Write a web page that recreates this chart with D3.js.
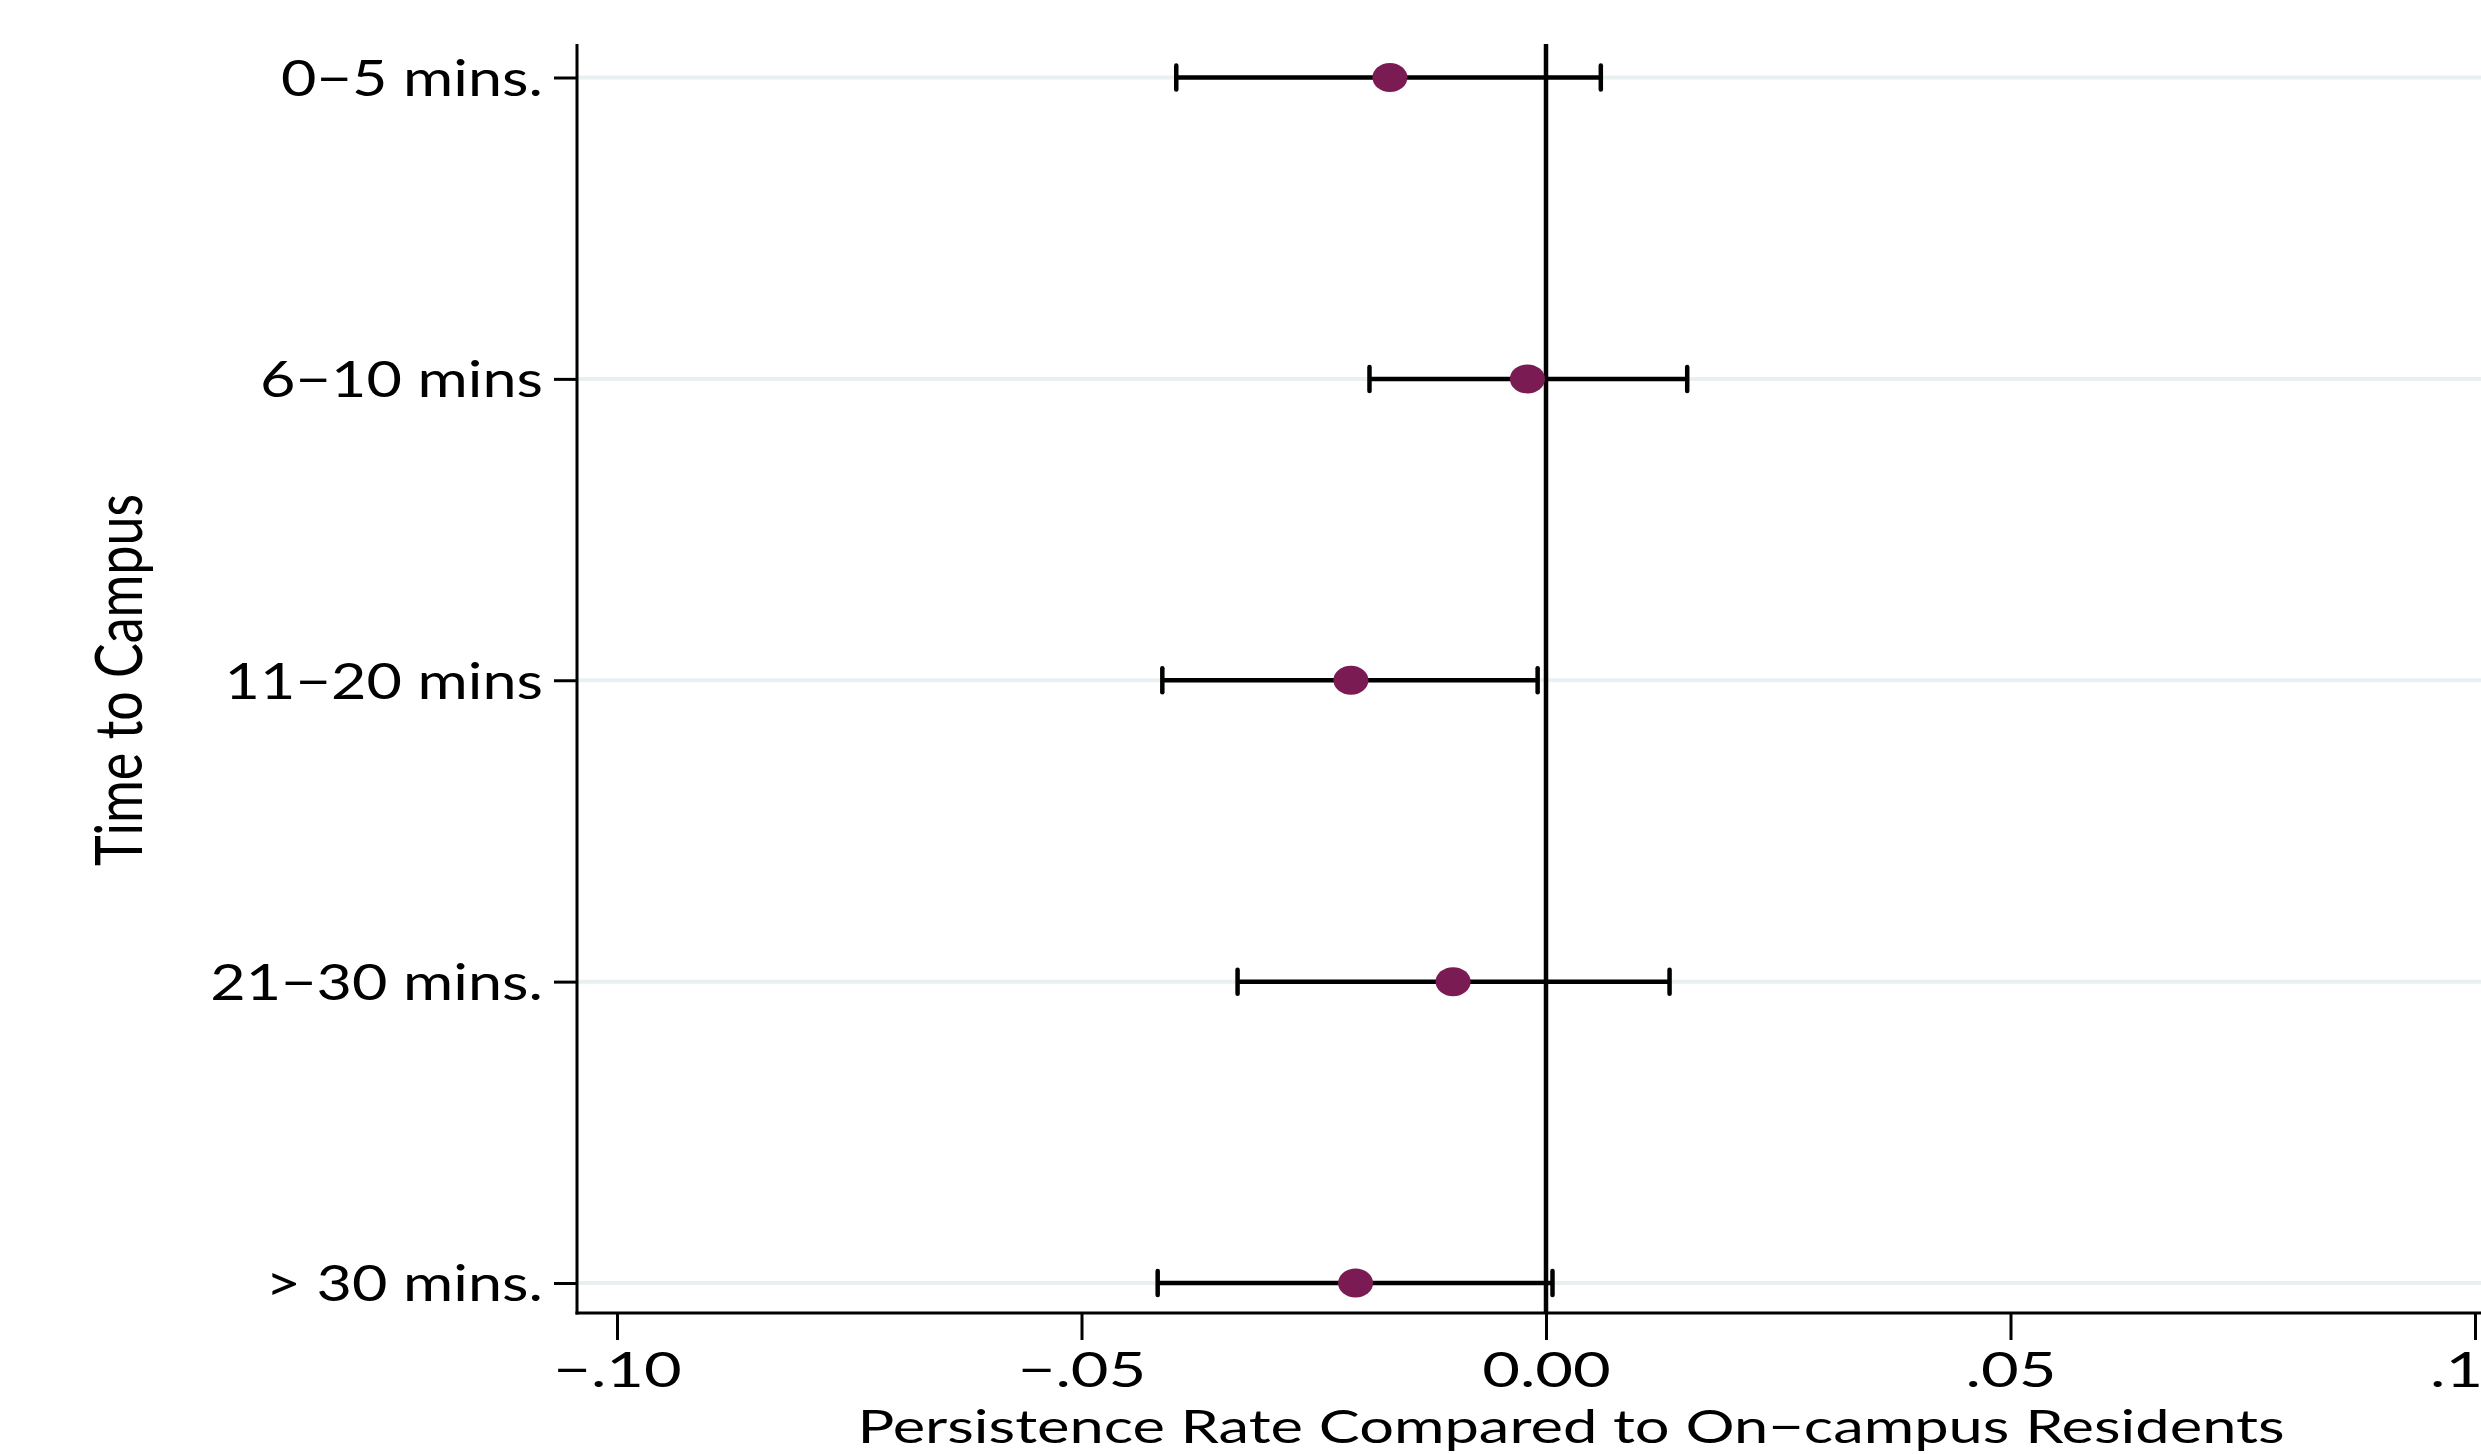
<!DOCTYPE html>
<html>
<head>
<meta charset="utf-8">
<script src="https://cdn.jsdelivr.net/npm/d3@7"></script>
<style>
  html, body { margin: 0; padding: 0; background: #ffffff; overflow: hidden; }
  svg { display: block; }
  text { font-family: Lato, "Open Sans", sans-serif; fill: #000; }
</style>
</head>
<body>
<script>
// ---- data ----
const categories = ["0−5 mins.", "6−10 mins", "11−20 mins", "21−30 mins.", "> 30 mins."];
const estimates  = [-0.0168, -0.0020, -0.0210, -0.0100, -0.0205];
const ciLower    = [-0.0398, -0.0190, -0.0413, -0.0332, -0.0418];
const ciUpper    = [ 0.0059,  0.0152, -0.0009,  0.0133,  0.0007];
const xTickValues = [-0.10, -0.05, 0.00, 0.05, 0.10];
const xTickLabels = ["−.10", "−.05", "0.00", ".05", ".10"];
const xTitle = "Persistence Rate Compared to On−campus Residents";
const yTitle = "Time to Campus";

// ---- layout ----
const W = 2481, H = 1454;
const axisLeft = 577, plotTop = 44, axisBottom = 1313, plotRight = W;
const FONT = "Lato";

const svg = d3.select("body").append("svg").attr("width", W).attr("height", H);

const x = d3.scaleLinear().domain([-0.10, 0.10]).range([617, 2475]);
const y = d3.scalePoint().domain(categories).range([77.5, 1283]);

const rows = categories.map((c, i) => ({c, est: estimates[i], lo: ciLower[i], hi: ciUpper[i]}));

// gridlines
svg.append("g").selectAll("line").data(categories).join("line")
  .attr("x1", axisLeft).attr("x2", plotRight)
  .attr("y1", d => y(d)).attr("y2", d => y(d))
  .attr("stroke", "#e8f0f2").attr("stroke-width", 4);

// zero reference line
svg.append("line")
  .attr("x1", x(0)).attr("x2", x(0))
  .attr("y1", plotTop).attr("y2", axisBottom)
  .attr("stroke", "#000").attr("stroke-width", 4.5);

// x axis
const sxTick = 1.37;
const xAxis = d3.axisBottom(x).tickValues(xTickValues)
  .tickFormat((d, i) => xTickLabels[i]).tickSize(27).tickPadding(12);
const gx = svg.append("g").attr("transform", `translate(0,${axisBottom})`).call(xAxis);
gx.select(".domain").remove();
gx.selectAll(".tick line").attr("stroke", "#000").attr("stroke-width", 3);
gx.selectAll(".tick text")
  .attr("font-size", 47.5).attr("font-family", FONT).attr("fill", "#000")
  .attr("y", 74).attr("dy", null)
  .attr("transform", `scale(${sxTick},1)`);
svg.append("line").attr("x1", axisLeft - 1.5).attr("x2", plotRight)
  .attr("y1", axisBottom).attr("y2", axisBottom).attr("stroke", "#000").attr("stroke-width", 3);

// y axis
const syTick = 1.235;
const yAxis = d3.axisLeft(y).tickSize(23).tickPadding(11);
const gy = svg.append("g").attr("transform", `translate(${axisLeft},0)`).call(yAxis);
gy.select(".domain").remove();
gy.selectAll(".tick line").attr("stroke", "#000").attr("stroke-width", 3);
gy.selectAll(".tick text")
  .attr("font-size", 49.5).attr("font-family", FONT).attr("fill", "#000")
  .attr("x", -34 / syTick).attr("dy", "0.36em")
  .attr("transform", `scale(${syTick},1)`);
svg.append("line").attr("x1", axisLeft).attr("x2", axisLeft)
  .attr("y1", plotTop).attr("y2", axisBottom + 1.5).attr("stroke", "#000").attr("stroke-width", 3);

// error bars
const bars = svg.append("g");
bars.selectAll("line.ci").data(rows).join("line").attr("class", "ci")
  .attr("x1", d => x(d.lo)).attr("x2", d => x(d.hi))
  .attr("y1", d => y(d.c)).attr("y2", d => y(d.c))
  .attr("stroke", "#000").attr("stroke-width", 4.5);
bars.selectAll("line.capl").data(rows).join("line").attr("class", "capl")
  .attr("x1", d => x(d.lo)).attr("x2", d => x(d.lo))
  .attr("y1", d => y(d.c) - 12).attr("y2", d => y(d.c) + 12)
  .attr("stroke", "#000").attr("stroke-width", 4.5).attr("stroke-linecap", "round");
bars.selectAll("line.capr").data(rows).join("line").attr("class", "capr")
  .attr("x1", d => x(d.hi)).attr("x2", d => x(d.hi))
  .attr("y1", d => y(d.c) - 12).attr("y2", d => y(d.c) + 12)
  .attr("stroke", "#000").attr("stroke-width", 4.5).attr("stroke-linecap", "round");

// points
svg.append("g").selectAll("ellipse").data(rows).join("ellipse")
  .attr("cx", d => x(d.est)).attr("cy", d => y(d.c))
  .attr("rx", 17.5).attr("ry", 14.5)
  .attr("fill", "#7a1b54");

// titles
const sTitle = 1.335;
svg.append("text").attr("transform", `translate(1571,1443) scale(${sTitle},1)`)
  .attr("text-anchor", "middle").attr("font-size", 46).attr("font-family", FONT).text(xTitle);
svg.append("text").attr("transform", `translate(142,680) scale(1.25,1) rotate(-90)`)
  .attr("text-anchor", "middle").attr("font-size", 52).attr("font-family", FONT).text(yTitle);
</script>
</body>
</html>
